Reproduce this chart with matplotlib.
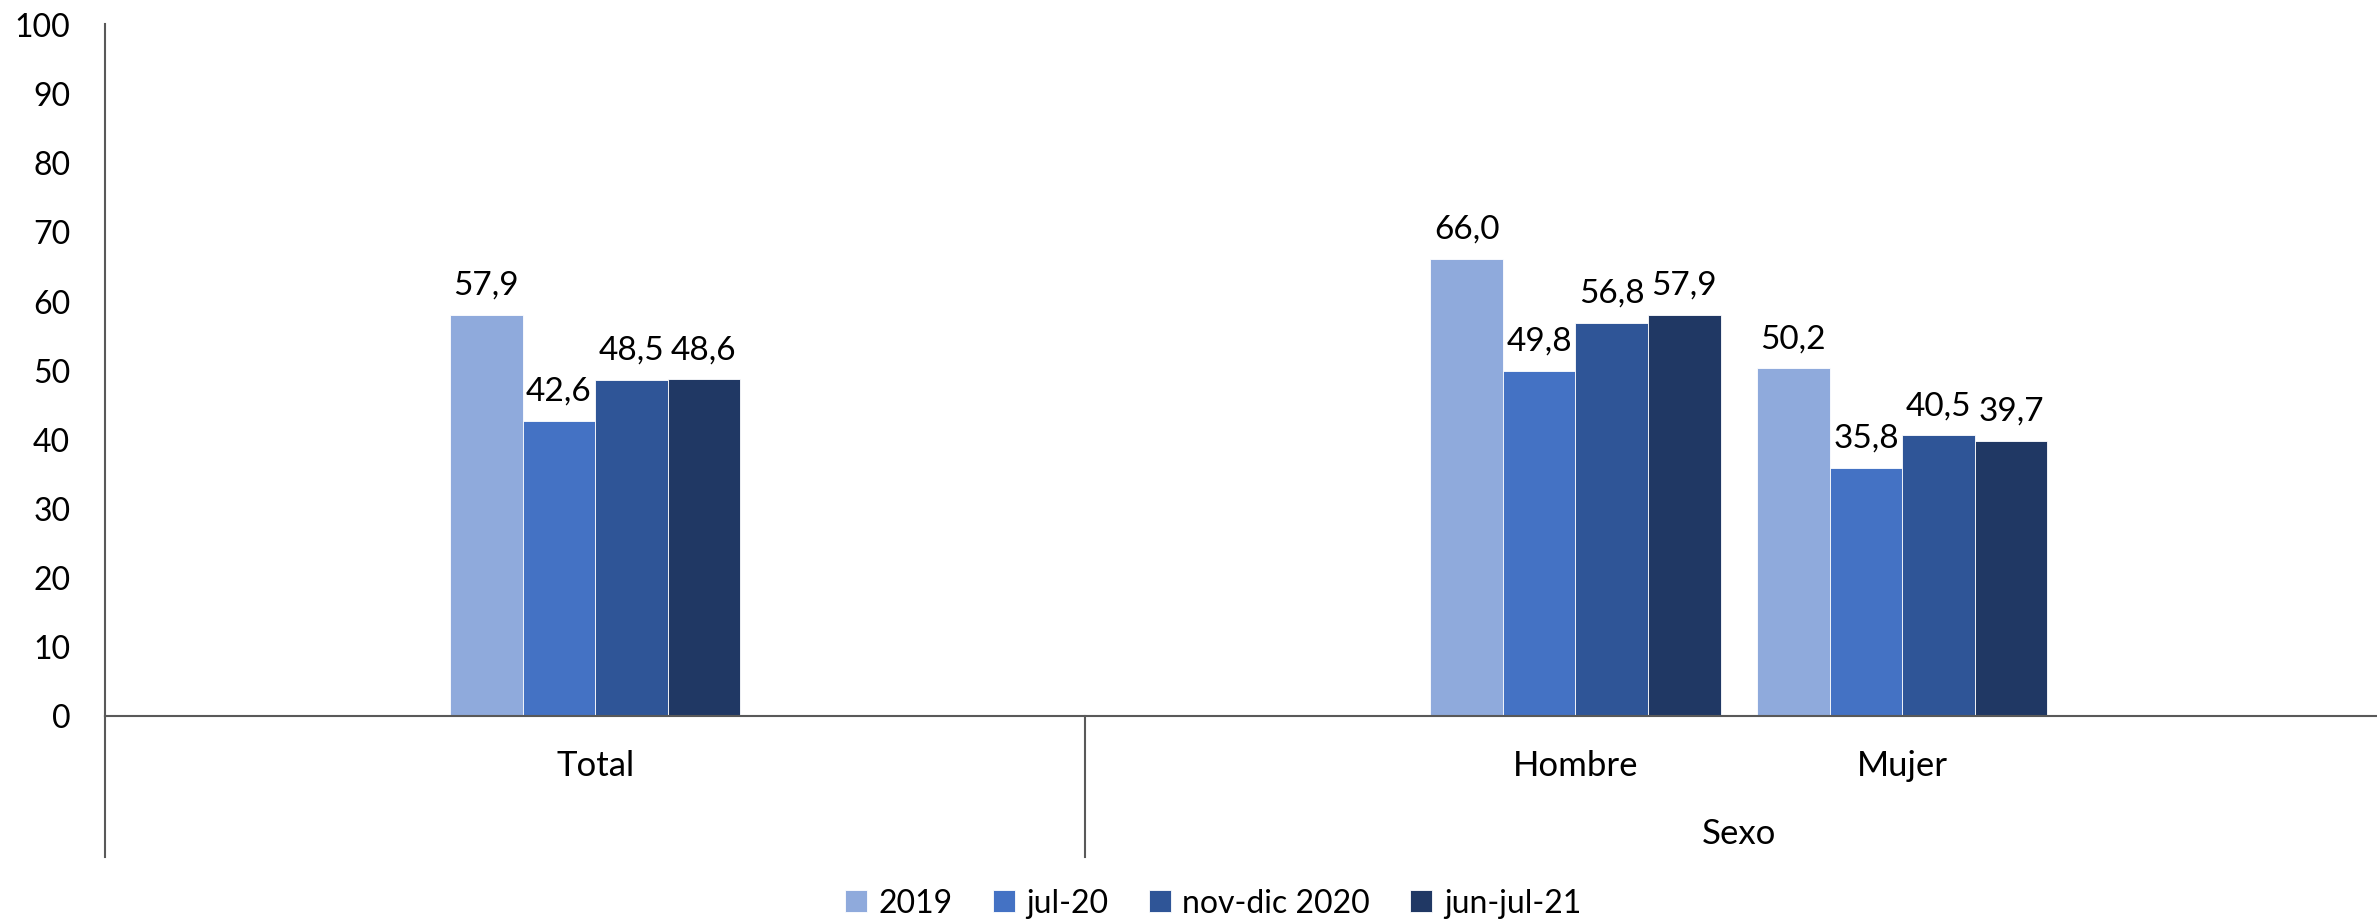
import matplotlib
matplotlib.use("Agg")
import matplotlib.pyplot as plt
import matplotlib.transforms as mtransforms
import numpy as np

plt.rcParams['font.family'] = ['Lato', 'DejaVu Sans']

categories = ["Total", "Hombre", "Mujer"]
cat_pos = [0, 3, 4]
group_labels = ["Sexo"]
group_pos = [3.5]
separators = [1.5]
series_names = ["2019", "jul-20", "nov-dic 2020", "jun-jul-21"]
values_2019 = [57.9, 66.0, 50.2]
values_jul20 = [42.6, 49.8, 35.8]
values_novdic20 = [48.5, 56.8, 40.5]
values_junjul21 = [48.6, 57.9, 39.7]
series_values = [values_2019, values_jul20, values_novdic20, values_junjul21]
colors = ["#8FAADC", "#4472C4", "#2F5597", "#203864"]
yticks = list(range(0, 101, 10))

fig = plt.figure(figsize=(23.77, 9.2), dpi=100)
ax = fig.add_axes([105/2377, 1-716.5/920, (2376-105)/2377, (716.5-25)/920])

w = 0.222
n = len(series_names)
for i, (name, vals, c) in enumerate(zip(series_names, series_values, colors)):
    xs = np.array(cat_pos) + (i - (n-1)/2) * w
    ax.bar(xs, vals, width=w, color=c, label=name, edgecolor="white", linewidth=0.6)
    for x, v in zip(xs, vals):
        ax.annotate(f"{v:.1f}".replace(".", ","), (x, v), xytext=(0, 11),
                    textcoords="offset points", ha="center", va="bottom",
                    fontsize=24, color="black")

ax.set_xlim(-1.5, 5.45)
ax.set_ylim(0, 100)
ax.set_yticks(yticks)
ax.set_yticklabels([str(t) for t in yticks], fontsize=23)
ax.tick_params(axis="y", length=0, pad=25)
ax.set_xticks([])
for s in ["top", "right"]:
    ax.spines[s].set_visible(False)
ax.spines["left"].set_color("#595959")
ax.spines["bottom"].set_color("#595959")
ax.spines["left"].set_linewidth(1.5)
ax.spines["bottom"].set_linewidth(1.5)

trans = mtransforms.blended_transform_factory(ax.transData, ax.transAxes)
ext = -(858-716.5)/(716.5-25)
ax.plot([-1.5, -1.5], [0, ext], transform=trans, color="#595959", lw=1.5, clip_on=False)
for sx in separators:
    ax.plot([sx, sx], [0, ext], transform=trans, color="#595959", lw=1.5, clip_on=False)

for cx, lab in zip(cat_pos, categories):
    ax.text(cx, -(766-716.5)/691.5, lab, transform=trans, ha="center", va="center", fontsize=25)
for gx, lab in zip(group_pos, group_labels):
    ax.text(gx, -(834-716.5)/691.5, lab, transform=trans, ha="center", va="center", fontsize=25)

leg = fig.legend(loc="center", bbox_to_anchor=(1213/2377, 1-904/920), ncol=4, frameon=False,
                 fontsize=23, handlelength=0.7, handleheight=0.7, handletextpad=0.36,
                 columnspacing=1.25)

fig.savefig("out.png", dpi=100)
